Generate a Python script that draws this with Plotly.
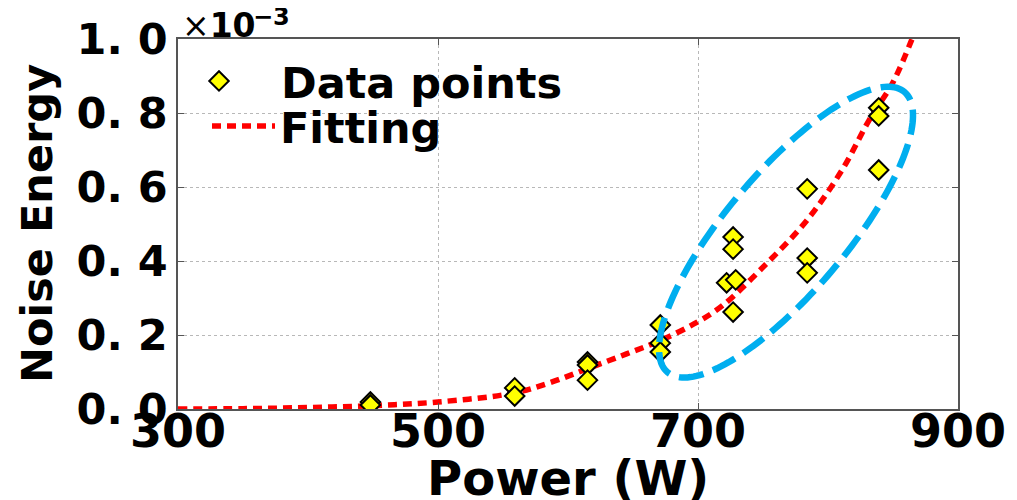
import numpy as np
import plotly.graph_objects as go

# ---- data (energy in units of 1e-3) ----
power = [448, 448, 559, 559, 615, 615, 615, 671, 671, 671,
         727, 727, 722, 729, 727, 784, 784, 784, 839, 839, 839]
energy = [0.019, 0.011, 0.057, 0.035, 0.127, 0.119, 0.078, 0.227, 0.178, 0.154,
          0.465, 0.432, 0.341, 0.349, 0.262, 0.595, 0.408, 0.368, 0.814, 0.792, 0.646]

fit_power = [300, 350, 400, 450, 500, 558, 586, 615, 645, 671, 699, 719,
             753, 784, 811, 832, 850, 868]
fit_energy = [0.000, 0.001, 0.004, 0.009, 0.019, 0.043, 0.071, 0.109, 0.149, 0.185,
              0.234, 0.280, 0.394, 0.511, 0.647, 0.783, 0.883, 1.030]

x_ticks = [300, 500, 700, 900]
x_ticktext = ["300", "500", "700", "900"]
y_ticks = [0.0, 0.2, 0.4, 0.6, 0.8, 1.0]
y_ticktext = ["0. 0", "0. 2", "0. 4", "0. 6", "0. 8", "1. 0"]

X_RANGE = [300, 900]
Y_RANGE = [0, 1.0]

# ellipse highlight (center in data units, semi-axes in screen px, angle in deg)
ELL_CENTER = (767.7, 0.478)
ELL_A_PX, ELL_B_PX, ELL_ANGLE = 183.5, 60.0, 49.8

# the page body has an 8px margin, so the figure is sized to fit the 1017x500 window
OFF = 8
W, H = 1017 - OFF, 500 - OFF
M = dict(l=178 - OFF, r=59, t=39 - OFF, b=91)
FONT = "DejaVu Sans"

pw = W - M["l"] - M["r"]
ph = H - M["t"] - M["b"]


def paper_x(win_px):
    return (win_px - OFF - M["l"]) / pw


def paper_y(win_py):
    return (H - M["b"] - (win_py - OFF)) / ph


fig = go.Figure()

fig.add_trace(go.Scatter(
    x=fit_power, y=fit_energy, mode="lines", name="<b>Fitting</b>",
    line=dict(color="#ff0000", width=5.5, dash="9px,6px", shape="spline"),
    legend="legend2",
))
fig.add_trace(go.Scatter(
    x=power, y=energy, mode="markers", name="<b>Data points</b>",
    marker=dict(symbol="diamond", size=15, color="#ffff00",
                line=dict(color="#000000", width=2)),
    legend="legend",
))

# ellipse path built in screen px then mapped to data coordinates
sx = pw / (X_RANGE[1] - X_RANGE[0])
sy = ph / (Y_RANGE[1] - Y_RANGE[0])
t = np.linspace(0, 2 * np.pi, 181)
th = np.deg2rad(ELL_ANGLE)
ex = ELL_A_PX * np.cos(t) * np.cos(th) - ELL_B_PX * np.sin(t) * np.sin(th)
ey = ELL_A_PX * np.cos(t) * np.sin(th) + ELL_B_PX * np.sin(t) * np.cos(th)
px = ELL_CENTER[0] + ex / sx
py = ELL_CENTER[1] + ey / sy
path = "M " + " L ".join(f"{a:.3f},{b:.5f}" for a, b in zip(px, py)) + " Z"
fig.add_shape(type="path", path=path, xref="x", yref="y", layer="above",
              line=dict(color="#00aeef", width=6.5, dash="25px,10px"))

# exponent label (split so the superscript stays inside the page)
fig.add_annotation(
    x=paper_x(180), y=paper_y(26), xref="paper", yref="paper",
    xanchor="left", yanchor="middle",
    text="×<b>10</b>", showarrow=False,
    font=dict(family=FONT, size=33, color="#000000"),
)
fig.add_annotation(
    x=paper_x(251), y=paper_y(17), xref="paper", yref="paper",
    xanchor="left", yanchor="middle",
    text="<b>−3</b>", showarrow=False,
    font=dict(family=FONT, size=24, color="#000000"),
)
# axis titles
fig.add_annotation(
    x=0, y=0.5, xref="paper", yref="paper", xanchor="center", yanchor="middle",
    text="<b>Noise Energy</b>", showarrow=False, textangle=-90,
    xshift=-(M["l"] - (37 - OFF)),
    font=dict(family=FONT, size=43, color="#000000"),
)
fig.add_annotation(
    x=0.5, y=0, xref="paper", yref="paper", xanchor="center", yanchor="middle",
    text="<b>Power (W)</b>", showarrow=False,
    yshift=-((478 - OFF) - (H - M["b"])),
    font=dict(family=FONT, size=48, color="#000000"),
)

axis_common = dict(
    showline=True, linecolor="#555555", linewidth=1.5, mirror="ticks",
    ticks="inside", ticklen=6, tickcolor="#555555", tickwidth=1,
    showgrid=True, gridcolor="#b8b8b8", griddash="dot", gridwidth=1.2,
    zeroline=False,
)

fig.update_layout(
    width=W, height=H, margin=dict(**M, autoexpand=False),
    paper_bgcolor="white", plot_bgcolor="white",
    font=dict(family=FONT, color="#000000"),
    showlegend=True,
    xaxis=dict(range=X_RANGE, tickvals=x_ticks, ticktext=x_ticktext,
               tickfont=dict(family=FONT, size=46, weight="bold"),
               ticklabelstandoff=-19,
               **axis_common),
    yaxis=dict(range=Y_RANGE, tickvals=y_ticks, ticktext=y_ticktext,
               tickfont=dict(family=FONT, size=43, weight="bold"),
               **axis_common),
    legend=dict(x=paper_x(157), y=paper_y(81), xanchor="left", yanchor="middle",
                font=dict(family=FONT, size=43), bgcolor="rgba(0,0,0,0)",
                itemwidth=114, borderwidth=0),
    legend2=dict(x=paper_x(207), y=paper_y(126), xanchor="left", yanchor="middle",
                 font=dict(family=FONT, size=43), bgcolor="rgba(0,0,0,0)",
                 itemwidth=63, borderwidth=0),
)

fig.write_html("out.html")
